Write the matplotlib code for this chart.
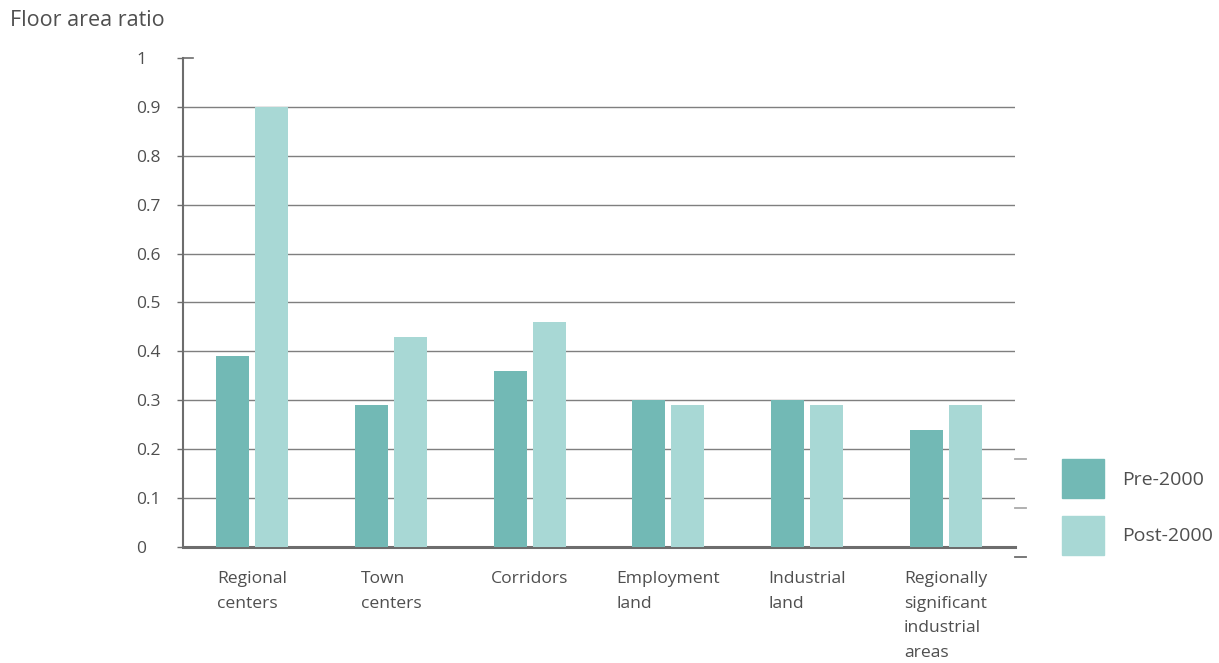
import numpy as np
import matplotlib
matplotlib.use("Agg")
from matplotlib import pyplot as plt
from matplotlib.patches import Patch

categories = ["Regional\ncenters", "Town\ncenters", "Corridors", "Employment\nland",
              "Industrial\nland", "Regionally\nsignificant\nindustrial\nareas"]
pre_2000 = [0.39, 0.29, 0.36, 0.30, 0.30, 0.24]
post_2000 = [0.90, 0.43, 0.46, 0.29, 0.29, 0.29]
yticks = [0, 0.1, 0.2, 0.3, 0.4, 0.5, 0.6, 0.7, 0.8, 0.9, 1]
ytick_labels = ["0", "0.1", "0.2", "0.3", "0.4", "0.5", "0.6", "0.7", "0.8", "0.9", "1"]

c_pre = "#72b9b5"
c_post = "#a8d8d5"
txt = "#4f4f4f"
plt.rcParams["font.family"] = ["Open Sans", "DejaVu Sans"]

fig = plt.figure(figsize=(12.19, 6.63), dpi=100)
ax = fig.add_axes([0.1501, 0.175, 0.6826, 0.7375])

x = np.arange(len(categories))
w = 0.238
off = 0.141
ax.bar(x - off, pre_2000, w, color=c_pre, zorder=3)
ax.bar(x + off, post_2000, w, color=c_post, zorder=3)

ax.set_xlim(-0.5, len(categories) - 0.5)
ax.set_ylim(0, 1)

# gridlines only between 0.1 and 0.9
for v in yticks[1:-1]:
    ax.axhline(v, color="#7f7f7f", lw=1, zorder=1)
ax.axhline(1, xmin=0, xmax=10 / 832, color="#6d6d6d", lw=1.2, clip_on=False)

for s in ["top", "right"]:
    ax.spines[s].set_visible(False)
ax.spines["left"].set_color("#6d6d6d")
ax.spines["left"].set_linewidth(1.5)
ax.spines["bottom"].set_color("#6d6d6d")
ax.spines["bottom"].set_linewidth(2.2)

ax.set_yticks(yticks)
ax.set_yticklabels(ytick_labels)
ax.tick_params(axis="y", direction="out", length=4.3, width=1, color="#6d6d6d",
               pad=29.5, labelsize=12.5, labelcolor=txt)
for lab in ax.get_yticklabels():
    lab.set_ha("left")
ax.set_xticks([])

for i, cat in enumerate(categories):
    ax.text(i, -0.05, cat, ha="center", va="top", multialignment="left",
            fontsize=12.6, color=txt, linespacing=1.7)

# small dashes at the right edge
for v, col in [(0.18, "#aaaaaa"), (0.08, "#aaaaaa"), (-0.02, "#6d6d6d")]:
    ax.plot([5.5, 5.58], [v, v], color=col, lw=1.3, clip_on=False)

fig.text(10 / 1219, 1 - 20 / 663, "Floor area ratio", ha="left", va="center",
         fontsize=15.5, color=txt)

handles = [Patch(color=c_pre), Patch(color=c_post)]
leg = fig.legend(handles, ["Pre-2000", "Post-2000"], loc="center left",
                 bbox_to_anchor=(1062 / 1219, 1 - 507 / 663), frameon=False,
                 fontsize=14, handlelength=2.15, handleheight=2.72,
                 labelspacing=0.88, handletextpad=0.95, borderpad=0,
                 borderaxespad=0, labelcolor=txt)

fig.savefig("out.png", dpi=100)
